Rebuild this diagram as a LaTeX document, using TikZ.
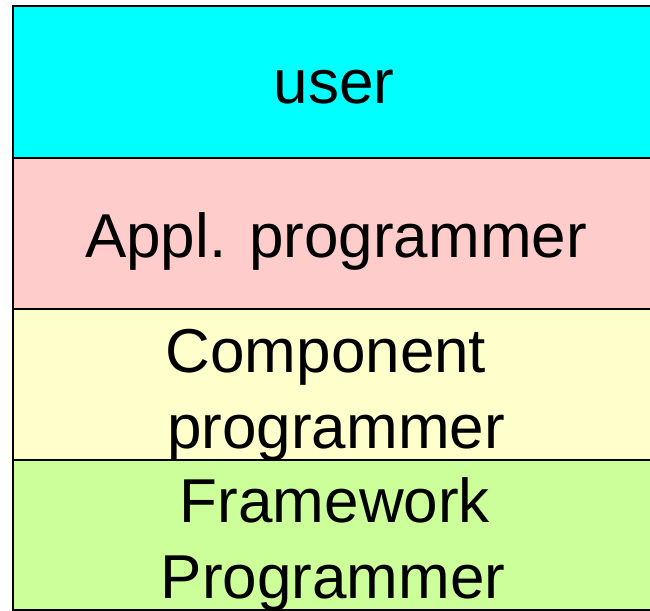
\documentclass[tikz,border=0pt]{standalone}
\usepackage{fontspec}
\setmainfont{Liberation Sans}
\definecolor{cUser}{HTML}{00FFFF}
\definecolor{cAppl}{HTML}{FFCCCC}
\definecolor{cComp}{HTML}{FFFFCC}
\definecolor{cFrame}{HTML}{CCFF99}
\tikzset{
  layer/.style={draw=black, line width=2pt, rectangle, inner sep=0pt, anchor=north west, minimum width=645pt},
  lbl/.style={inner sep=0pt, anchor=base, font=\fontsize{62}{74}\selectfont}
}
\begin{document}
\begin{tikzpicture}[x=1pt,y=-1pt]
\useasboundingbox (0,0) rectangle (650,610);
\node[layer, fill=cUser, minimum height=151pt] (user) at (12,5.5) {};
\node[lbl] (tuser) at (334,103) {user};
\node[layer, fill=cAppl, minimum height=151.5pt] (appl) at (12,156.5) {};
\node[lbl] (tappl) at (336,257) {Appl. programmer};
\node[layer, fill=cComp, minimum height=151pt] (comp) at (12,308) {};
\node[lbl] (tcomp1) at (326,372) {Component};
\node[lbl] (tcomp2) at (336,448) {programmer};
\node[layer, fill=cFrame, minimum height=150pt] (frame) at (12,459) {};
\node[lbl] (tframe1) at (335,522) {Framework};
\node[lbl] (tframe2) at (333,598) {Programmer};
\end{tikzpicture}
\end{document}
